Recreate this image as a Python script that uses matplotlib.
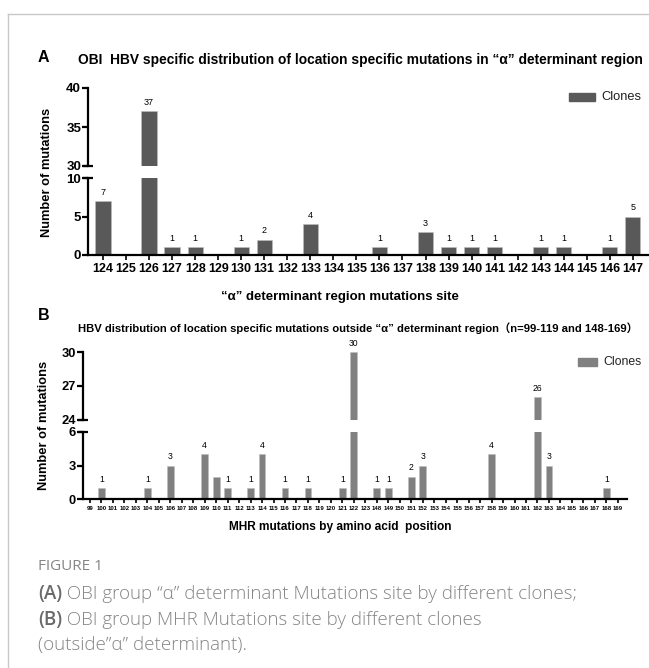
import matplotlib
matplotlib.use("Agg")
import matplotlib.pyplot as plt
from matplotlib.lines import Line2D
import numpy as np

# ---------------- data ----------------
a_sites = [str(s) for s in range(124, 148)]
a_values = [7, 0, 37, 1, 1, 0, 1, 2, 0, 4, 0, 0, 1, 0, 3, 1, 1, 1, 0, 1, 1, 0, 1, 5]

b_sites = [str(s) for s in list(range(99, 124)) + list(range(148, 170))]
b_value_map = {100: 1, 104: 1, 106: 3, 109: 4, 110: 2, 111: 1, 113: 1, 114: 4,
               116: 1, 118: 1, 121: 1, 122: 30, 148: 1, 149: 1, 151: 2, 152: 3,
               158: 4, 162: 26, 163: 3, 168: 1}
b_values = [b_value_map.get(int(s), 0) for s in b_sites]

# labels shown above bars in panel B (bar at 110 has no label in reference)
b_labelled = [v > 0 and s != "110" for s, v in zip(b_sites, b_values)]

W, H = 649, 668
fig = plt.figure(figsize=(W / 100, H / 100), dpi=100)
plt.rcParams['font.family'] = ['Liberation Sans', 'DejaVu Sans']

def fx(px):
    return px / W

def fy(py):
    return 1 - py / H

def box(l, t, r, b):
    return [fx(l), fy(b), fx(r) - fx(l), fy(t) - fy(b)]

# frame lines of page
fig.add_artist(Line2D([fx(8), 1], [fy(13.5), fy(13.5)], color='#c8c8c8', lw=1.0))
fig.add_artist(Line2D([fx(8), fx(8)], [fy(13.5), 0], color='#c8c8c8', lw=1.0))

SPW = 1.6


def broken_panel(ax_up, ax_lo, labels, values, color, width, up_lim, lo_lim,
                 up_ticks, lo_ticks, xlim, ytick_fs, xtick_fs, val_fs, labelled=None,
                 xtick_len=3.5):
    x = np.arange(len(labels))
    for ax in (ax_up, ax_lo):
        ax.bar(x, values, width=width, color=color, edgecolor='#bdbdbd', linewidth=0.4)
        ax.set_xlim(*xlim)
        for s in ('top', 'right'):
            ax.spines[s].set_visible(False)
        ax.spines['left'].set_linewidth(SPW)
        ax.tick_params(axis='y', length=4, width=SPW, labelsize=ytick_fs, pad=1)
    ax_up.set_ylim(*up_lim)
    ax_lo.set_ylim(*lo_lim)
    ax_up.set_yticks(up_ticks)
    ax_lo.set_yticks(lo_ticks)
    for ax in (ax_up, ax_lo):
        for t in ax.get_yticklabels():
            t.set_fontweight('bold')
    ax_up.spines['bottom'].set_visible(False)
    ax_up.set_xticks([])
    ax_lo.spines['bottom'].set_linewidth(SPW)
    ax_lo.set_xticks(x)
    ax_lo.set_xticklabels(labels, fontsize=xtick_fs, fontweight='bold')
    ax_lo.tick_params(axis='x', length=xtick_len, width=1.2, pad=2)
    # break caps
    ax_up.plot([xlim[0]], [up_lim[0]], marker='_', ms=7, mew=SPW, color='black', clip_on=False)
    ax_lo.plot([xlim[0]], [lo_lim[1]], marker='_', ms=7, mew=SPW, color='black', clip_on=False)
    # value labels
    if labelled is None:
        labelled = [v > 0 for v in values]
    for xi, v, lab in zip(x, values, labelled):
        if not lab:
            continue
        ax = ax_up if v > lo_lim[1] else ax_lo
        ax.annotate(str(v), xy=(xi, v), xytext=(0, 3), textcoords='offset points',
                    ha='center', va='bottom', fontsize=val_fs, clip_on=False)


# ---------------- panel A ----------------
axA_up = fig.add_axes(box(88, 88, 649, 166))
axA_lo = fig.add_axes(box(88, 178, 649, 255))
broken_panel(axA_up, axA_lo, a_sites, a_values, '#595959', 0.66,
             (30, 40), (0, 10), [30, 35, 40], [0, 5, 10], (-0.65, 23.7),
             9.5, 9, 6.5)

fig.text(fx(38), fy(58), 'A', fontsize=11.5, fontweight='bold', va='center', ha='left')
fig.text(fx(78), fy(60), 'OBI  HBV specific distribution of location specific mutations in \u201c\u03b1\u201d determinant region',
         fontsize=9.9, fontweight='bold', va='center', ha='left')
fig.text(fx(47), fy(172), 'Number of mutations', rotation=90, fontsize=9.3,
         fontweight='bold', va='center', ha='center')
fig.text(fx(340), fy(297), '\u201c\u03b1\u201d determinant region mutations site', fontsize=9.5,
         fontweight='bold', va='center', ha='center')
fig.patches.append(plt.Rectangle((fx(569), fy(101)), fx(26), fy(93) - fy(101),
                                 transform=fig.transFigure, color='#595959', figure=fig))
fig.text(fx(601), fy(97), 'Clones', fontsize=9.3, va='center', ha='left', color='#222222')

# ---------------- panel B ----------------
axB_up = fig.add_axes(box(83, 352, 627, 420))
axB_lo = fig.add_axes(box(83, 432, 627, 499))
broken_panel(axB_up, axB_lo, b_sites, b_values, '#808080', 0.6,
             (24, 30), (0, 6), [24, 27, 30], [0, 3, 6], (-0.6, 46.8),
             9.3, 4.3, 6.2, labelled=b_labelled, xtick_len=3)

fig.text(fx(38), fy(315), 'B', fontsize=11.5, fontweight='bold', va='center', ha='left')
fig.text(fx(78), fy(328), 'HBV distribution of location specific mutations outside \u201c\u03b1\u201d determinant region\uff08n=99-119 and 148-169\uff09',
         fontsize=8.1, fontweight='bold', va='center', ha='left',
         family=['Liberation Sans', 'Noto Sans CJK SC', 'DejaVu Sans'])
fig.text(fx(44), fy(425), 'Number of mutations', rotation=90, fontsize=9.3,
         fontweight='bold', va='center', ha='center')
fig.text(fx(340), fy(527), 'MHR mutations by amino acid  position', fontsize=8.6,
         fontweight='bold', va='center', ha='center')
fig.patches.append(plt.Rectangle((fx(578), fy(366)), fx(19), fy(358) - fy(366),
                                 transform=fig.transFigure, color='#808080', figure=fig))
fig.text(fx(603), fy(362), 'Clones', fontsize=8.8, va='center', ha='left', color='#222222')

# ---------------- caption ----------------
cap_col = '#858585'
fig.text(fx(38), fy(567), 'FIGURE 1', fontsize=11, color=cap_col, va='center', ha='left',
         family=['Open Sans', 'DejaVu Sans'])
cap_lines = [
    ('(A)', ' OBI group \u201c\u03b1\u201d determinant Mutations site by different clones;', 594),
    ('(B)', ' OBI group MHR Mutations site by different clones', 620),
    ('', '(outside\u201d\u03b1\u201d determinant).', 645),
]
CFS = 13.5
for bold, rest, yy in cap_lines:
    t = fig.text(fx(38), fy(yy), bold, fontsize=CFS, color='#6a6a6a', fontweight='semibold',
                 va='center', ha='left', family=['Open Sans', 'DejaVu Sans'])
    if bold:
        fig.canvas.draw()
        bb = t.get_window_extent()
        x0 = bb.x1 / fig.bbox.width
    else:
        x0 = fx(38)
    fig.text(x0, fy(yy), rest, fontsize=CFS, color=cap_col, va='center', ha='left',
             family=['Open Sans', 'DejaVu Sans'], fontweight='light')

fig.savefig('out.png', dpi=100)
